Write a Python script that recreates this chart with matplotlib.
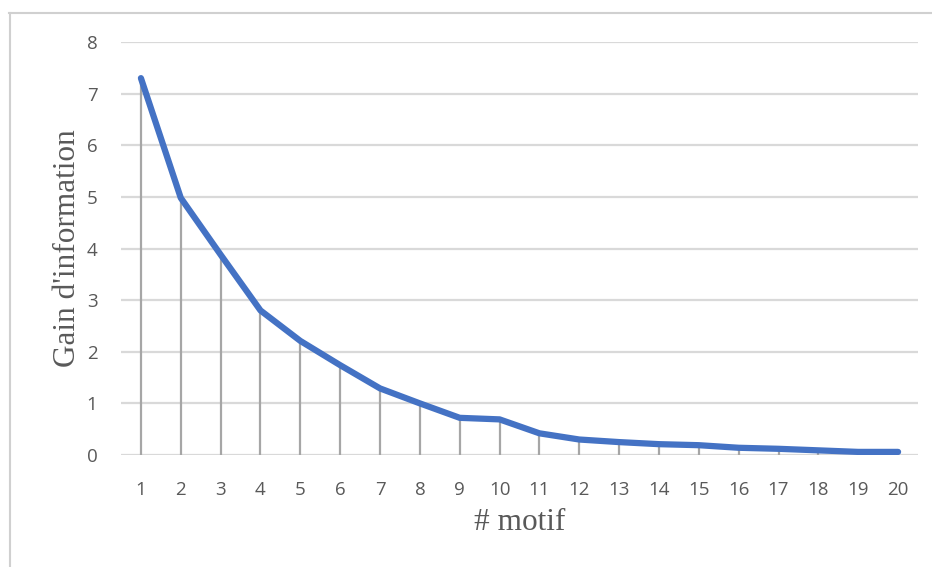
import matplotlib
matplotlib.use("Agg")
import matplotlib.pyplot as plt
from matplotlib.lines import Line2D

motifs = list(range(1, 21))
gain = [7.30, 4.98, 3.88, 2.80, 2.21, 1.74, 1.29, 1.00, 0.72, 0.69,
        0.42, 0.30, 0.25, 0.21, 0.19, 0.14, 0.12, 0.09, 0.06, 0.06]
yticks = [0, 1, 2, 3, 4, 5, 6, 7, 8]

fig = plt.figure(figsize=(9.32, 5.67), dpi=100)
ax = fig.add_axes([121/932, 1 - 455/567, (918-121)/932, (455-42)/567])

for y in yticks:
    ax.axhline(y, color="#d9d9d9", lw=1.6, zorder=1)

ax.vlines(motifs, 0, gain, colors="#a6a6a6", lw=1.6, zorder=2)
ax.plot(motifs, gain, color="#4472C4", lw=4.5, solid_capstyle="round",
        solid_joinstyle="round", zorder=3)

ax.set_xlim(0.5, 20.5)
ax.set_ylim(0, 8)
ax.set_xticks(motifs)
ax.set_yticks(yticks)
for s in ax.spines.values():
    s.set_visible(False)
ax.tick_params(length=0, labelsize=13.5, labelcolor="#595959")
ax.tick_params(axis="x", pad=19)
ax.tick_params(axis="y", pad=17)
for lab in ax.get_xticklabels() + ax.get_yticklabels():
    lab.set_family("Open Sans")

ax.set_ylabel("Gain d'information", family="Liberation Serif", fontsize=22.5,
              color="#595959", labelpad=3)
ax.set_xlabel("# motif", family="Liberation Serif", fontsize=22.5,
              color="#595959", labelpad=6)

fig.add_artist(Line2D([9/932, 1], [1 - 12.5/567, 1 - 12.5/567],
                      transform=fig.transFigure, color="#d0d0d0", lw=1.5))
fig.add_artist(Line2D([9.5/932, 9.5/932], [0, 1 - 12.5/567],
                      transform=fig.transFigure, color="#d0d0d0", lw=1.5))

fig.savefig("out.png", dpi=100, facecolor="white")
